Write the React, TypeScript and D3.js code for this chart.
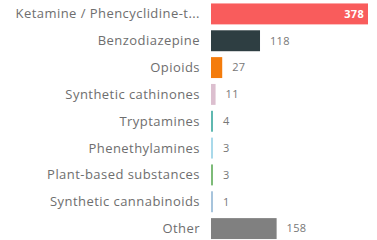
import * as d3 from "d3";

const categories = [
  "Ketamine / Phencyclidine-type substances",
  "Benzodiazepine",
  "Opioids",
  "Synthetic cathinones",
  "Tryptamines",
  "Phenethylamines",
  "Plant-based substances",
  "Synthetic cannabinoids",
  "Other",
];
const values = [378, 118, 27, 11, 4, 3, 3, 1, 158];
const colors = [
  "#f95c5c",
  "#2e3e42",
  "#f47c0c",
  "#dcbfcf",
  "#5fb8b0",
  "#a9d9ea",
  "#7dbb78",
  "#a7c4dc",
  "#808080",
];

const width = 377;
const height = 240;

function shorten(s: string, max = 26) {
  return s.length > max ? s.slice(0, max) + "..." : s;
}

export default function App() {
  const x = d3.scaleLinear().domain([0, 378]).range([211, 368]);
  const y = d3
    .scaleBand<string>()
    .domain(categories)
    .range([0.5, 242])
    .paddingInner(0.22)
    .paddingOuter(0.11);

  return (
    <svg
      width={width}
      height={height}
      style={{ position: "absolute", left: 0, top: 0, fontFamily: "'Open Sans', sans-serif" }}
    >
      <rect width={width} height={height} fill="#fff" />
      {categories.map((c, i) => {
        const yy = y(c)!;
        const bh = y.bandwidth();
        const w = Math.max(2, x(values[i]) - x(0));
        const inside = i === 0;
        return (
          <g key={c}>
            <text
              x={200}
              y={yy + bh / 2}
              dy="0.35em"
              textAnchor="end"
              fontSize={13}
              letterSpacing={0.45}
              fill="#6e6e6e"
            >
              {shorten(c)}
            </text>
            <rect x={x(0)} y={yy} width={w} height={bh} fill={colors[i]} />
            <text
              x={inside ? x(0) + w - 4 : x(0) + w + 10}
              y={yy + bh / 2}
              dy="0.35em"
              textAnchor={inside ? "end" : "start"}
              fontSize={11}
              fontWeight={inside ? "bold" : "normal"}
              letterSpacing={0.3}
              fill={inside ? "#fff" : "#777"}
            >
              {values[i]}
            </text>
          </g>
        );
      })}
    </svg>
  );
}
